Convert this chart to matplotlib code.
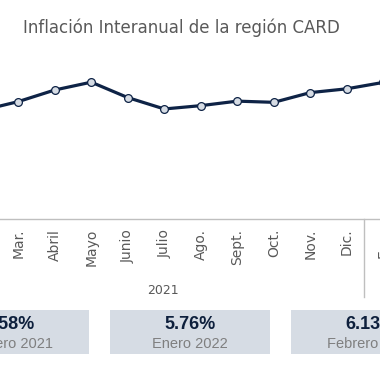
import matplotlib
matplotlib.use("Agg")
import matplotlib.pyplot as plt
from matplotlib.patches import Rectangle
import matplotlib.transforms as mtransforms

# ---- data ----
months = ["Feb.", "Mar.", "Abril", "Mayo", "Junio", "Julio", "Ago.", "Sept.",
          "Oct.", "Nov.", "Dic.", "Ene.", "Feb."]
inflation = [4.58, 4.95, 5.44, 5.77, 5.12, 4.64, 4.78, 4.97, 4.92, 5.33,
             5.49, 5.76, 6.13]
year_label = "2021"
card_values = ["4.58%", "5.76%", "6.13%"]
card_labels = ["Febrero 2021", "Enero 2022", "Febrero 2022"]
title = "Inflación Interanual de la región CARD"

W = H = 380
fig = plt.figure(figsize=(3.8, 3.8), dpi=100)
fig.patch.set_facecolor("white")

def fx(px):
    return px / W

def fy(py):
    return 1 - py / H

# axes: bottom at px 219, top at px 53
ax = fig.add_axes([0, fy(219), 1, (219 - 53) / H])
x = list(range(1, 1 + len(months)))
ax.plot(x, inflation, color="#0E2346", lw=2.3, marker="o", ms=5.6,
        mfc="#D6DCE4", mec="#0E2346", mew=0.9, zorder=3, clip_on=False)
ax.set_xticks(x)
ax.set_xticklabels(months, rotation=90, fontsize=10, color="#595959",
                   family="DejaVu Sans")
ax.set_xlim(1.5, 11.91)
ax.set_ylim(0, 7.0)
ax.set_yticks([])
ax.tick_params(axis="x", length=0, pad=7)
for s in ["top", "left", "right"]:
    ax.spines[s].set_visible(False)
ax.spines["bottom"].set_color("#BFBFBF")
ax.spines["bottom"].set_linewidth(1.0)
ax.patch.set_alpha(0)

# labels just beyond the right edge (partially visible)
trans = mtransforms.blended_transform_factory(ax.transData, fig.transFigure)
for xi, lab in zip(x, months):
    if xi > 11.91:
        ax.text(xi, fy(228), lab, transform=trans, rotation=90, ha="center",
                va="top", fontsize=10, color="#595959", clip_on=False)

# year separator line
fig.add_artist(plt.Line2D([fx(364), fx(364)], [fy(219), fy(297)],
                          color="#BFBFBF", lw=1.0))
fig.text(fx(163), fy(290), year_label, ha="center", va="center",
         fontsize=9, color="#595959")

# title
fig.text(fx(181), fy(33.3), title, ha="center", va="baseline",
         fontsize=12, color="#595959")

# cards
card_left = [-71, 110, 291]
for left, val, lab in zip(card_left, card_values, card_labels):
    fig.add_artist(Rectangle((fx(left), fy(354)), 160 / W, 44 / H,
                             transform=fig.transFigure, facecolor="#D6DCE4",
                             edgecolor="none"))
    cx = fx(left + 80)
    fig.text(cx, fy(329.3), val, ha="center", va="baseline", fontsize=13,
             fontweight="bold", color="#0D1F3C", family="Liberation Sans")
    fig.text(cx, fy(348.3), lab, ha="center", va="baseline", fontsize=10.5,
             color="#7F7F7F", family="Liberation Sans")

fig.savefig("out.png", dpi=100)
